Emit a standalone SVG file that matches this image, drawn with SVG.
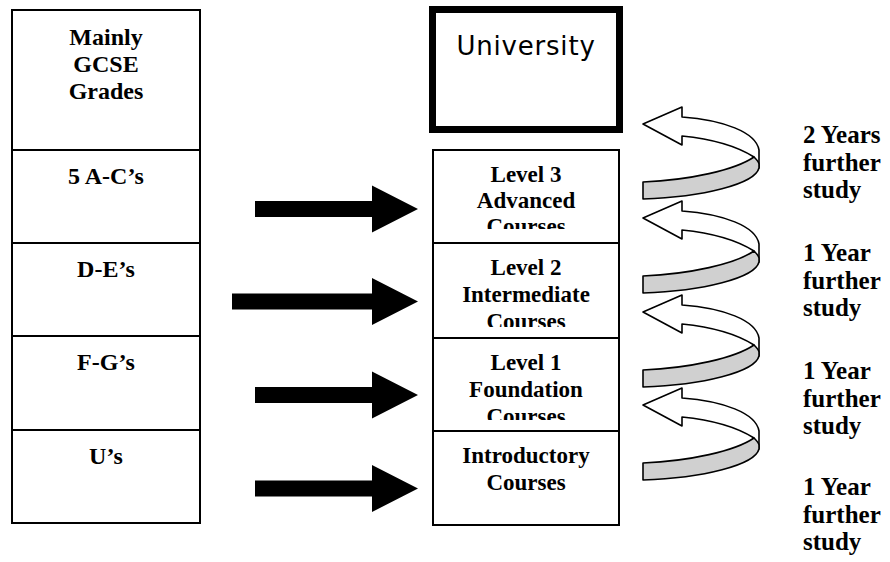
<svg xmlns="http://www.w3.org/2000/svg" xmlns:xlink="http://www.w3.org/1999/xlink" width="890" height="562" viewBox="0 0 890 562">
<style>
.box{fill:#fff;stroke:#000;stroke-width:2}
.t{font-family:"Liberation Serif","Times New Roman",serif;font-weight:bold;font-size:24px;fill:#000;text-anchor:middle}
.tm{font-family:"Liberation Serif","Times New Roman",serif;font-weight:bold;font-size:23px;fill:#000;text-anchor:middle}
.tr{font-family:"Liberation Serif","Times New Roman",serif;font-weight:bold;font-size:25px;fill:#000}
.uni{font-family:"DejaVu Sans","Liberation Sans",sans-serif;font-size:26px;fill:#000;text-anchor:middle;letter-spacing:0.8px}
.blk{fill:#000}
.wh{fill:#fff;stroke:#000;stroke-width:1.6;stroke-linejoin:round}
.gr{fill:#d0d0d0;stroke:#000;stroke-width:1.6;stroke-linejoin:round}
</style>
<defs>
<clipPath id="c3"><rect x="433" y="150" width="186" height="79"/></clipPath>
<clipPath id="c2"><rect x="433" y="243" width="186" height="84"/></clipPath>
<clipPath id="c1"><rect x="433" y="338" width="186" height="82"/></clipPath>
<g id="turn">
<path class="wh" d="M0,0 L39,-17 L39,-7 C80,-4 113,8 116,26 L116,44 L111,33 C92,21 69,15 39,12 L39,21 Z"/>
<path class="gr" d="M111,33 C113,35 116,38 116,40 L116,44 C112,60 60,73 0,75 L0,58 C47,56 92,46 111,33 Z"/>
</g>
</defs>
<rect width="890" height="562" fill="#fff"/>

<g id="grades-header">
<rect class="box" x="12" y="10" width="188" height="140"/>
<text class="t" x="106" y="45">Mainly</text>
<text class="t" x="106" y="72">GCSE</text>
<text class="t" x="106" y="99">Grades</text>
</g>
<g id="grade-ac">
<rect class="box" x="12" y="150" width="188" height="93"/>
<text class="t" x="106" y="184">5 A-C’s</text>
</g>
<g id="grade-de">
<rect class="box" x="12" y="243" width="188" height="93"/>
<text class="t" x="106" y="277">D-E’s</text>
</g>
<g id="grade-fg">
<rect class="box" x="12" y="336" width="188" height="94"/>
<text class="t" x="106" y="370">F-G’s</text>
</g>
<g id="grade-u">
<rect class="box" x="12" y="430" width="188" height="93"/>
<text class="t" x="106" y="464">U’s</text>
</g>

<g id="university">
<rect x="432.5" y="9.5" width="187" height="120" fill="#fff" stroke="#000" stroke-width="7"/>
<text class="uni" x="526" y="55">University</text>
</g>
<g id="level3">
<rect class="box" x="433" y="150" width="186" height="93"/>
<g clip-path="url(#c3)">
<text class="tm" x="526" y="182">Level 3</text>
<text class="tm" x="526" y="208">Advanced</text>
<text class="tm" x="526" y="234">Courses</text>
</g>
</g>
<g id="level2">
<rect class="box" x="433" y="243" width="186" height="95"/>
<g clip-path="url(#c2)">
<text class="tm" x="526" y="275">Level 2</text>
<text class="tm" x="526" y="302">Intermediate</text>
<text class="tm" x="526" y="329">Courses</text>
</g>
</g>
<g id="level1">
<rect class="box" x="433" y="338" width="186" height="93"/>
<g clip-path="url(#c1)">
<text class="tm" x="526" y="370">Level 1</text>
<text class="tm" x="526" y="397">Foundation</text>
<text class="tm" x="526" y="424">Courses</text>
</g>
</g>
<g id="introductory">
<rect class="box" x="433" y="431" width="186" height="94"/>
<text class="tm" x="526" y="463">Introductory</text>
<text class="tm" x="526" y="490">Courses</text>
</g>

<g id="connectors">
<path class="blk" d="M255,201 L372,201 L372,185.5 L418,209 L372,232.5 L372,217 L255,217 Z"/>
<path class="blk" d="M232,293.5 L372,293.5 L372,278 L418,301.5 L372,325 L372,309.5 L232,309.5 Z"/>
<path class="blk" d="M255,387 L372,387 L372,371.5 L418,395 L372,418.5 L372,403 L255,403 Z"/>
<path class="blk" d="M255,480.5 L372,480.5 L372,465 L418,488.5 L372,512 L372,496.5 L255,496.5 Z"/>
<use xlink:href="#turn" href="#turn" transform="translate(643,124)"/>
<use xlink:href="#turn" href="#turn" transform="translate(643,218)"/>
<use xlink:href="#turn" href="#turn" transform="translate(643,312)"/>
<use xlink:href="#turn" href="#turn" transform="translate(643,405)"/>
</g>

<g id="durations">
<text class="tr" x="803" y="143">2 Years</text>
<text class="tr" x="803" y="170.5">further</text>
<text class="tr" x="803" y="198">study</text>
<text class="tr" x="803" y="261">1 Year</text>
<text class="tr" x="803" y="288.5">further</text>
<text class="tr" x="803" y="316">study</text>
<text class="tr" x="803" y="379">1 Year</text>
<text class="tr" x="803" y="406.5">further</text>
<text class="tr" x="803" y="434">study</text>
<text class="tr" x="803" y="495">1 Year</text>
<text class="tr" x="803" y="522.5">further</text>
<text class="tr" x="803" y="550">study</text>
</g>
</svg>
